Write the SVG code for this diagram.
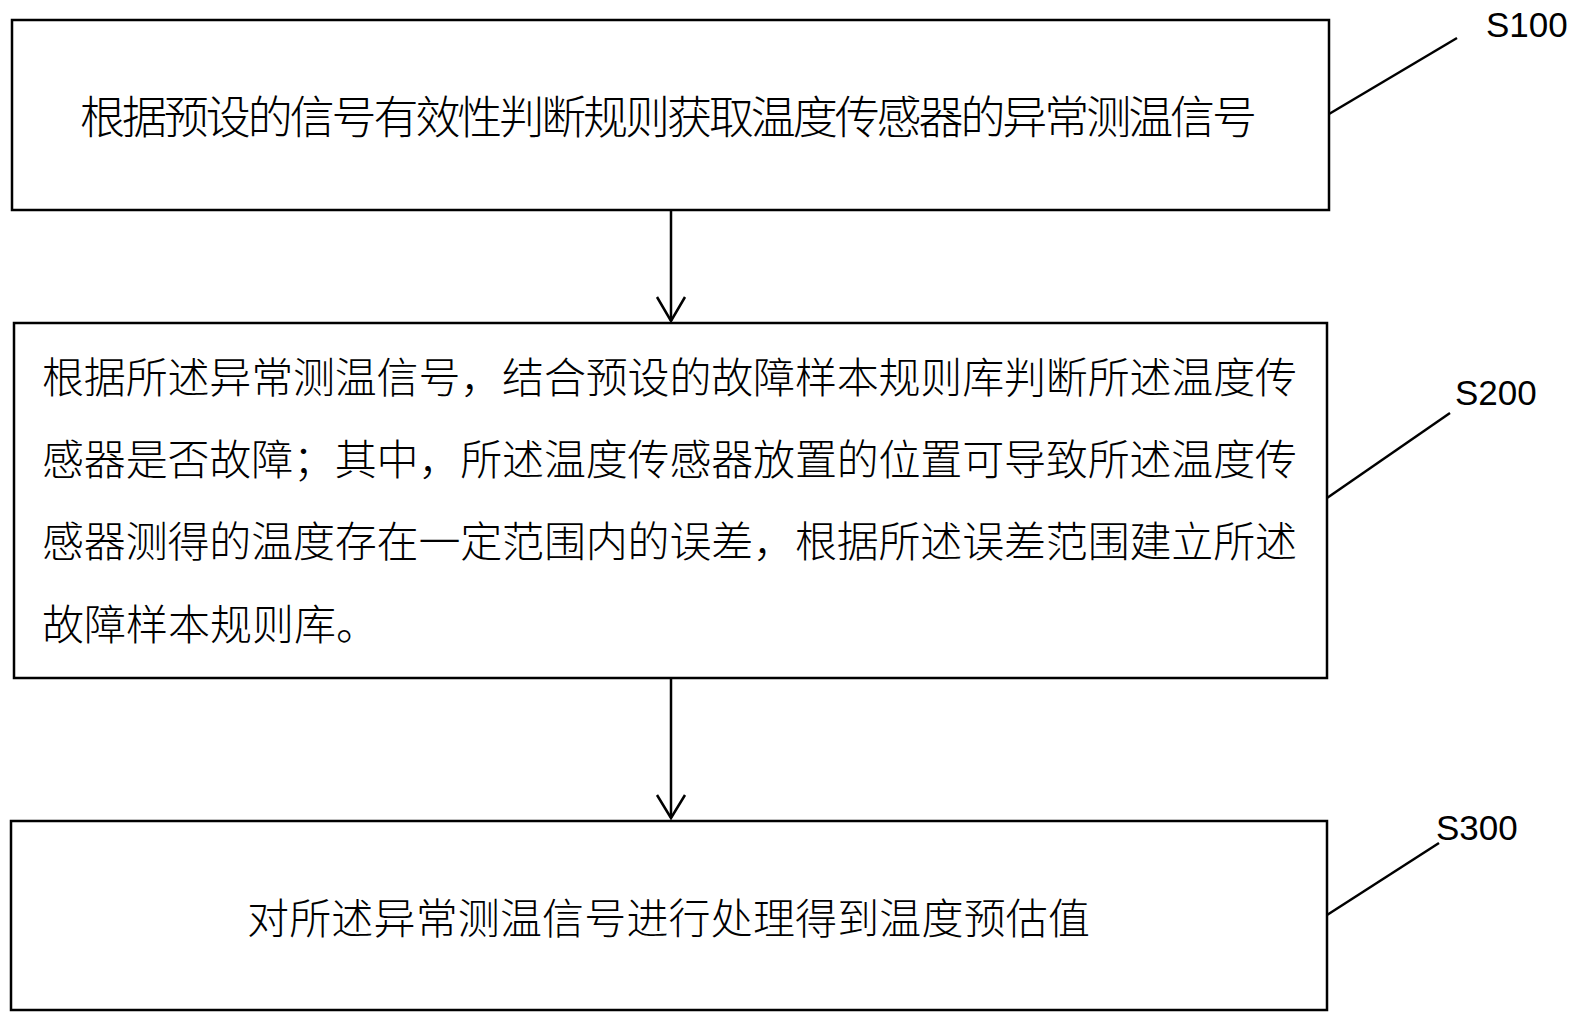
<svg xmlns="http://www.w3.org/2000/svg" width="1579" height="1022" viewBox="0 0 1579 1022">
  <style>
    .box { fill: #ffffff; stroke: #000000; stroke-width: 2.5; }
    .txt { font-family: "Noto Sans CJK SC", "Noto Sans", sans-serif; font-weight: 300; fill: #000000; }
    .lbl { font-family: "Liberation Sans", Arial, sans-serif; font-size: 35px; fill: #000000; }
    .line { stroke: #000000; stroke-width: 2.5; fill: none; }
  </style>
  <rect width="1579" height="1022" fill="#ffffff"/>

  <g id="connectors">
    <line class="line" x1="671" y1="210" x2="671" y2="321"/>
    <path class="line" d="M657,297 L671,321 L685,297"/>
    <line class="line" x1="671" y1="678" x2="671" y2="818"/>
    <path class="line" d="M657,795 L671,818 L685,795"/>
    <line class="line" x1="1329" y1="114" x2="1457" y2="38"/>
    <line class="line" x1="1327" y1="498" x2="1450" y2="413"/>
    <line class="line" x1="1327" y1="915" x2="1439" y2="843"/>
  </g>

  <g id="S100">
    <rect class="box" x="12" y="20" width="1317" height="190"/>
    <text class="txt" x="80" y="134" font-size="45" textLength="1177">根据预设的信号有效性判断规则获取温度传感器的异常测温信号</text>
    <text class="lbl" x="1486" y="37">S100</text>
  </g>

  <g id="S200">
    <rect class="box" x="14" y="323" width="1313" height="355"/>
    <text class="txt" font-size="42">
      <tspan x="42" y="393" textLength="1255">根据所述异常测温信号，结合预设的故障样本规则库判断所述温度传</tspan>
      <tspan x="42" y="475" textLength="1255">感器是否故障；其中，所述温度传感器放置的位置可导致所述温度传</tspan>
      <tspan x="42" y="557" textLength="1255">感器测得的温度存在一定范围内的误差，根据所述误差范围建立所述</tspan>
      <tspan x="42" y="640">故障样本规则库。</tspan>
    </text>
    <text class="lbl" x="1455" y="405">S200</text>
  </g>

  <g id="S300">
    <rect class="box" x="11" y="821" width="1316" height="189"/>
    <text class="txt" x="247" y="934" font-size="42" textLength="843">对所述异常测温信号进行处理得到温度预估值</text>
    <text class="lbl" x="1436" y="840">S300</text>
  </g>
</svg>
